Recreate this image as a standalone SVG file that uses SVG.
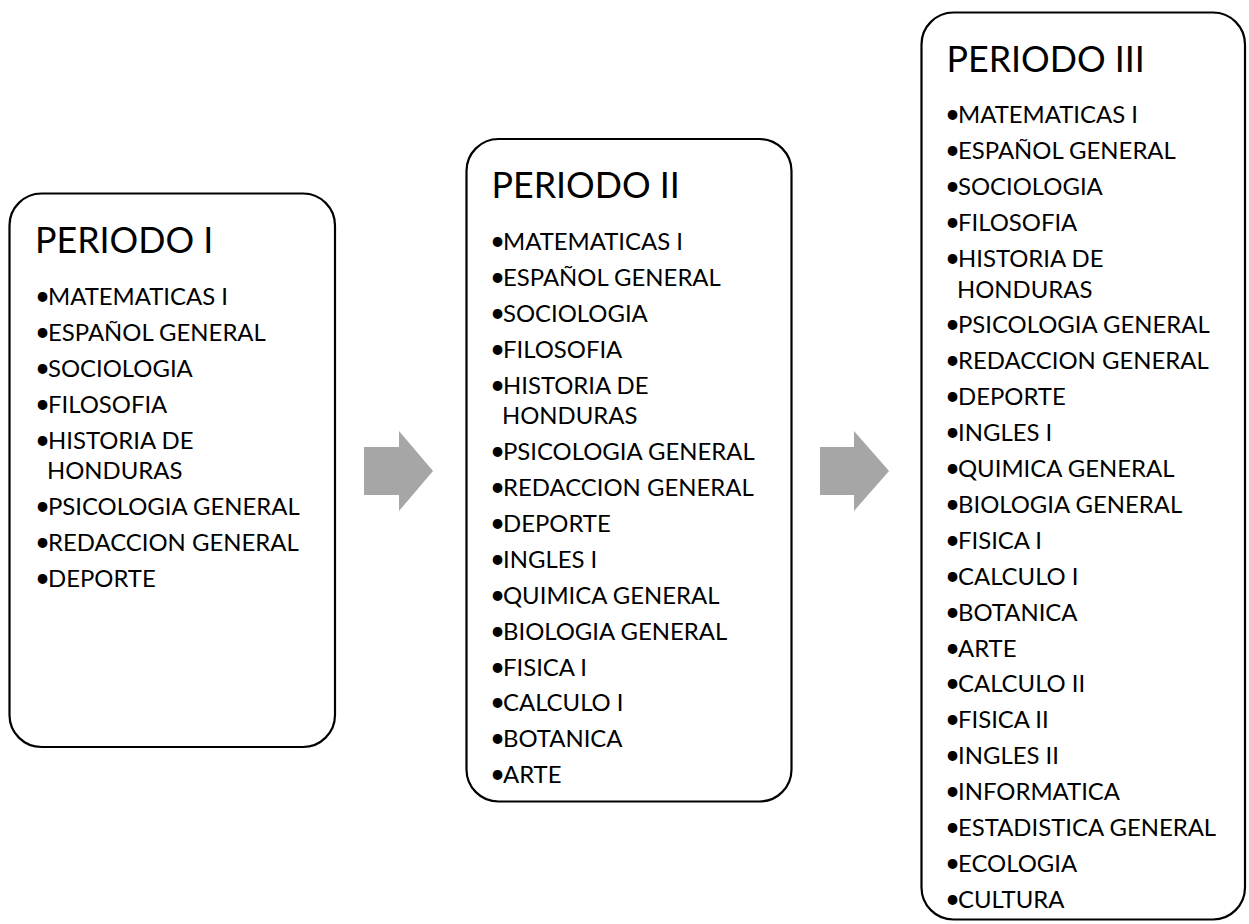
<svg xmlns="http://www.w3.org/2000/svg" width="1249" height="924" viewBox="0 0 1249 924">
<style>
.box{fill:#fff;stroke:#000;stroke-width:2.2}
.title{font-family:Lato,"Liberation Sans",sans-serif;font-size:35.8px;fill:#000}
.item{font-family:Lato,"Liberation Sans",sans-serif;font-size:23.9px;fill:#000}
.b{font-size:26px}
.arrow{fill:#a6a6a6}
</style>
<rect width="1249" height="924" fill="#fff"/>
<g id="connectors">
<polygon class="arrow" points="364,447 399,447 399,431 433,471 399,511 399,495 364,495"/>
<polygon class="arrow" points="820,447 854,447 854,431 889,471 854,511 854,495 820,495"/>
</g>
<g id="periodo1">
<rect class="box" x="9.5" y="193.5" width="325.5" height="553.5" rx="32"/>
<text class="title" x="35" y="253">PERIODO I</text>
<g class="item">
<text y="305"><tspan class="b" x="35">•</tspan><tspan x="48">MATEMATICAS I</tspan></text>
<text y="340.9"><tspan class="b" x="35">•</tspan><tspan x="48">ESPAÑOL GENERAL</tspan></text>
<text y="376.8"><tspan class="b" x="35">•</tspan><tspan x="48">SOCIOLOGIA</tspan></text>
<text y="412.7"><tspan class="b" x="35">•</tspan><tspan x="48">FILOSOFIA</tspan></text>
<text y="448.6"><tspan class="b" x="35">•</tspan><tspan x="48">HISTORIA DE</tspan></text>
<text x="47" y="479.2">HONDURAS</text>
<text y="515.1"><tspan class="b" x="35">•</tspan><tspan x="48">PSICOLOGIA GENERAL</tspan></text>
<text y="551"><tspan class="b" x="35">•</tspan><tspan x="48">REDACCION GENERAL</tspan></text>
<text y="586.9"><tspan class="b" x="35">•</tspan><tspan x="48">DEPORTE</tspan></text>
</g>
</g>
<g id="periodo2">
<rect class="box" x="466.5" y="139" width="325" height="662.5" rx="32"/>
<text class="title" x="491.5" y="198">PERIODO II</text>
<g class="item">
<text y="250"><tspan class="b" x="490">•</tspan><tspan x="503">MATEMATICAS I</tspan></text>
<text y="285.9"><tspan class="b" x="490">•</tspan><tspan x="503">ESPAÑOL GENERAL</tspan></text>
<text y="321.8"><tspan class="b" x="490">•</tspan><tspan x="503">SOCIOLOGIA</tspan></text>
<text y="357.7"><tspan class="b" x="490">•</tspan><tspan x="503">FILOSOFIA</tspan></text>
<text y="393.6"><tspan class="b" x="490">•</tspan><tspan x="503">HISTORIA DE</tspan></text>
<text x="502" y="424.2">HONDURAS</text>
<text y="460.1"><tspan class="b" x="490">•</tspan><tspan x="503">PSICOLOGIA GENERAL</tspan></text>
<text y="496"><tspan class="b" x="490">•</tspan><tspan x="503">REDACCION GENERAL</tspan></text>
<text y="531.9"><tspan class="b" x="490">•</tspan><tspan x="503">DEPORTE</tspan></text>
<text y="567.8"><tspan class="b" x="490">•</tspan><tspan x="503">INGLES I</tspan></text>
<text y="603.7"><tspan class="b" x="490">•</tspan><tspan x="503">QUIMICA GENERAL</tspan></text>
<text y="639.6"><tspan class="b" x="490">•</tspan><tspan x="503">BIOLOGIA GENERAL</tspan></text>
<text y="675.5"><tspan class="b" x="490">•</tspan><tspan x="503">FISICA I</tspan></text>
<text y="711.4"><tspan class="b" x="490">•</tspan><tspan x="503">CALCULO I</tspan></text>
<text y="747.3"><tspan class="b" x="490">•</tspan><tspan x="503">BOTANICA</tspan></text>
<text y="783.2"><tspan class="b" x="490">•</tspan><tspan x="503">ARTE</tspan></text>
</g>
</g>
<g id="periodo3">
<rect class="box" x="921.5" y="12.5" width="323.5" height="907" rx="32"/>
<text class="title" x="946.5" y="72">PERIODO III</text>
<g class="item">
<text y="123.3"><tspan class="b" x="945">•</tspan><tspan x="958">MATEMATICAS I</tspan></text>
<text y="159.2"><tspan class="b" x="945">•</tspan><tspan x="958">ESPAÑOL GENERAL</tspan></text>
<text y="195.1"><tspan class="b" x="945">•</tspan><tspan x="958">SOCIOLOGIA</tspan></text>
<text y="231"><tspan class="b" x="945">•</tspan><tspan x="958">FILOSOFIA</tspan></text>
<text y="266.9"><tspan class="b" x="945">•</tspan><tspan x="958">HISTORIA DE</tspan></text>
<text x="957" y="297.5">HONDURAS</text>
<text y="333.4"><tspan class="b" x="945">•</tspan><tspan x="958">PSICOLOGIA GENERAL</tspan></text>
<text y="369.3"><tspan class="b" x="945">•</tspan><tspan x="958">REDACCION GENERAL</tspan></text>
<text y="405.2"><tspan class="b" x="945">•</tspan><tspan x="958">DEPORTE</tspan></text>
<text y="441.1"><tspan class="b" x="945">•</tspan><tspan x="958">INGLES I</tspan></text>
<text y="477"><tspan class="b" x="945">•</tspan><tspan x="958">QUIMICA GENERAL</tspan></text>
<text y="512.9"><tspan class="b" x="945">•</tspan><tspan x="958">BIOLOGIA GENERAL</tspan></text>
<text y="548.8"><tspan class="b" x="945">•</tspan><tspan x="958">FISICA I</tspan></text>
<text y="584.7"><tspan class="b" x="945">•</tspan><tspan x="958">CALCULO I</tspan></text>
<text y="620.6"><tspan class="b" x="945">•</tspan><tspan x="958">BOTANICA</tspan></text>
<text y="656.5"><tspan class="b" x="945">•</tspan><tspan x="958">ARTE</tspan></text>
<text y="692.4"><tspan class="b" x="945">•</tspan><tspan x="958">CALCULO II</tspan></text>
<text y="728.3"><tspan class="b" x="945">•</tspan><tspan x="958">FISICA II</tspan></text>
<text y="764.2"><tspan class="b" x="945">•</tspan><tspan x="958">INGLES II</tspan></text>
<text y="800.1"><tspan class="b" x="945">•</tspan><tspan x="958">INFORMATICA</tspan></text>
<text y="836"><tspan class="b" x="945">•</tspan><tspan x="958">ESTADISTICA GENERAL</tspan></text>
<text y="871.9"><tspan class="b" x="945">•</tspan><tspan x="958">ECOLOGIA</tspan></text>
<text y="907.8"><tspan class="b" x="945">•</tspan><tspan x="958">CULTURA</tspan></text>
</g>
</g>
</svg>
